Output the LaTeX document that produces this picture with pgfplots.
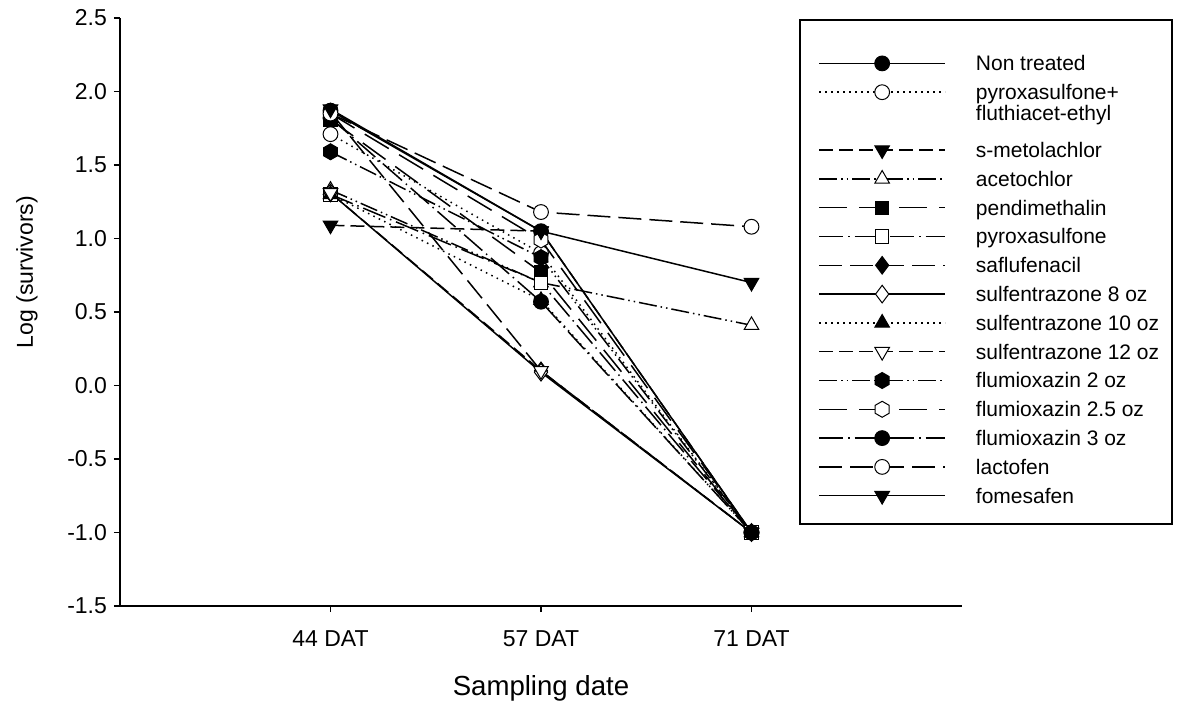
\documentclass[border=0pt]{standalone}
\usepackage{pgfplots}
\pgfplotsset{compat=1.18}
\usepackage{fontspec}
\setmainfont{Liberation Sans}
\usetikzlibrary{plotmarks}

% hexagon marks, pointed at top and bottom
\pgfdeclareplotmark{hexagon*}{%
  \pgfpathmoveto{\pgfqpointpolar{90}{\pgfplotmarksize}}%
  \pgfpathlineto{\pgfqpointpolar{150}{\pgfplotmarksize}}%
  \pgfpathlineto{\pgfqpointpolar{210}{\pgfplotmarksize}}%
  \pgfpathlineto{\pgfqpointpolar{270}{\pgfplotmarksize}}%
  \pgfpathlineto{\pgfqpointpolar{330}{\pgfplotmarksize}}%
  \pgfpathlineto{\pgfqpointpolar{30}{\pgfplotmarksize}}%
  \pgfpathclose\pgfusepathqfillstroke}

\tikzset{
  dotline/.style={dash pattern=on 0.75pt off 2.25pt},
  shortdash/.style={dash pattern=on 7pt off 3pt},
  dashdotdot/.style={dash pattern=on 9pt off 2pt on 0.75pt off 2pt on 0.75pt off 2pt},
  meddash/.style={dash pattern=on 14pt off 6pt},
  dashdotline/.style={dash pattern=on 12pt off 2.5pt on 0.75pt off 2.5pt},
  longdash/.style={dash pattern=on 11.5pt off 4pt},
}

\pgfplotsset{
  fm/.style={mark options={solid, fill=black, line width=0.5pt}},
  om/.style={mark options={solid, fill=white, line width=0.5pt}},
  downm/.style={mark options={solid, fill=#1, line width=0.5pt, rotate=180}},
}

\begin{document}
\begin{tikzpicture}[font=\fontsize{11.5}{13.8}\selectfont]
\begin{axis}[
  name=ax,
  scale only axis, width=421pt, height=294pt,
  xmin=0, xmax=4, ymin=-1.5, ymax=2.5,
  axis lines=left,
  axis line style={-, line width=0.75pt},
  xtick={1,2,3}, xticklabels={44 DAT,57 DAT,71 DAT},
  ytick={-1.5,-1.0,-0.5,0.0,0.5,1.0,1.5,2.0,2.5},
  tick align=outside, major tick length=3pt,
  tick style={line width=0.75pt, black},
  /pgf/number format/assume math mode=true,
  yticklabel style={/pgf/number format/.cd, fixed, fixed zerofill, precision=1},
  xticklabel style={yshift=-6pt},
  clip=false,
  xlabel={Sampling date}, ylabel={Log (survivors)},
  xlabel style={at={(axis description cs:0.5,-0.1395)}, anchor=center,
    font=\fontsize{13.8}{16}\selectfont},
  ylabel style={at={(axis description cs:-0.1105,0.568)}, anchor=center},
  every axis plot/.append style={black, line width=0.75pt},
  legend cell align=left,
  legend style={at={(0.829,0.948)}, anchor=north west, draw=none, fill=none,
    inner sep=0pt, row sep=0pt, column sep=15pt,
    font=\fontsize{10.5}{12.6}\selectfont,
    nodes={inner sep=0pt, text height=10.95pt, text depth=3.45pt, anchor=west}},
  legend image code/.code={\draw[mark repeat=2,mark phase=2,#1]
    plot coordinates {(0pt,0pt) (31.5pt,0pt) (63pt,0pt)};},
]
\addplot[solid, mark=*, mark size=3.7pt, fm] coordinates {(1,1.87) (2,1.05) (3,-1.0)};
\addlegendentry{Non treated}
\addplot[dotline, mark=*, mark size=3.7pt, om] coordinates {(1,1.71) (2,0.90) (3,-1.0)};
\addlegendentry{pyroxasulfone+}
\addlegendimage{empty legend}
\addlegendentry[text height=7pt, text depth=7.55pt]{fluthiacet-ethyl}
\addplot[shortdash, mark=triangle*, mark size=4.2pt, downm=black] coordinates {(1,1.09) (2,1.05) (3,-1.0)};
\addlegendentry{s-metolachlor}
\addplot[dashdotdot, mark=triangle*, mark size=4.2pt, om] coordinates {(1,1.33) (2,0.70) (3,0.41)};
\addlegendentry{acetochlor}
\addplot[meddash, mark=square*, mark size=3.3pt, fm] coordinates {(1,1.81) (2,0.77) (3,-1.0)};
\addlegendentry{pendimethalin}
\addplot[dashdotline, mark=square*, mark size=3.3pt, om] coordinates {(1,1.30) (2,0.70) (3,-1.0)};
\addlegendentry{pyroxasulfone}
\addplot[longdash, mark=diamond*, mark size=4.4pt, fm] coordinates {(1,1.86) (2,0.10) (3,-1.0)};
\addlegendentry{saflufenacil}
\addplot[solid, mark=diamond*, mark size=4.4pt, om] coordinates {(1,1.31) (2,0.09) (3,-1.0)};
\addlegendentry{sulfentrazone 8 oz}
\addplot[dotline, mark=triangle*, mark size=4.2pt, fm] coordinates {(1,1.30) (2,0.58) (3,-1.0)};
\addlegendentry{sulfentrazone 10 oz}
\addplot[shortdash, mark=triangle*, mark size=4.2pt, downm=white] coordinates {(1,1.31) (2,0.10) (3,-1.0)};
\addlegendentry{sulfentrazone 12 oz}
\addplot[dashdotdot, mark=hexagon*, mark size=4pt, fm] coordinates {(1,1.59) (2,0.87) (3,-1.0)};
\addlegendentry{flumioxazin 2 oz}
\addplot[meddash, mark=hexagon*, mark size=4pt, om] coordinates {(1,1.85) (2,0.99) (3,-1.0)};
\addlegendentry{flumioxazin 2.5 oz}
\addplot[dashdotline, mark=*, mark size=3.7pt, fm] coordinates {(1,1.82) (2,0.57) (3,-1.0)};
\addlegendentry{flumioxazin 3 oz}
\addplot[longdash, mark=*, mark size=3.7pt, om] coordinates {(1,1.85) (2,1.18) (3,1.08)};
\addlegendentry{lactofen}
\addplot[solid, mark=triangle*, mark size=4.2pt, downm=black] coordinates {(1,1.88) (2,1.05) (3,0.70)};
\addlegendentry{fomesafen}
\end{axis}
\draw[line width=0.75pt] ([shift={(340pt,41pt)}]ax.south west) rectangle ([shift={(526pt,293pt)}]ax.south west);
\path ([shift={(-60pt,-51.5pt)}]ax.south west) rectangle ([shift={(534.5pt,303pt)}]ax.south west);
\end{tikzpicture}
\end{document}
